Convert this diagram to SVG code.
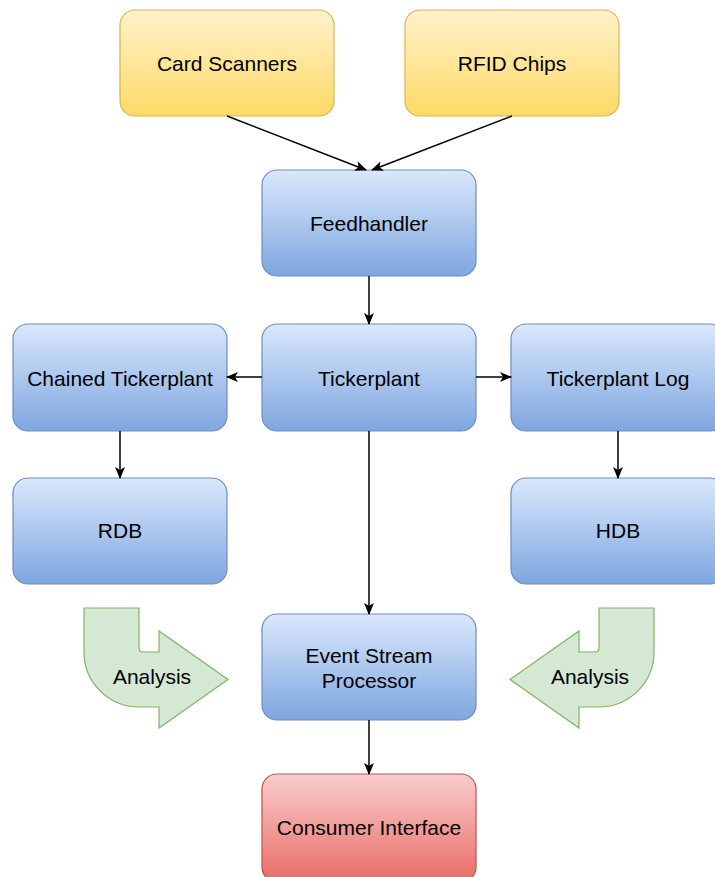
<svg xmlns="http://www.w3.org/2000/svg" width="715" height="877" viewBox="0 0 715 877">
<defs>
<linearGradient id="gy" x1="0" y1="0" x2="0" y2="1"><stop offset="0" stop-color="#fff2cc"/><stop offset="1" stop-color="#ffd966"/></linearGradient>
<linearGradient id="gb" x1="0" y1="0" x2="0" y2="1"><stop offset="0" stop-color="#dae8fc"/><stop offset="1" stop-color="#7ea6e0"/></linearGradient>
<linearGradient id="gr" x1="0" y1="0" x2="0" y2="1"><stop offset="0" stop-color="#f8cecc"/><stop offset="1" stop-color="#ea6b66"/></linearGradient>
<marker id="arr" viewBox="0 0 12 10" refX="11" refY="5" markerWidth="12" markerHeight="10" markerUnits="userSpaceOnUse" orient="auto">
<path d="M0,0 L12,5 L0,10 L3,5 Z" fill="#000"/>
</marker>
</defs>
<style>
.y{fill:url(#gy);stroke:#d6b656;stroke-width:1.2}
.b{fill:url(#gb);stroke:#6c8ebf;stroke-width:1.2}
.r{fill:url(#gr);stroke:#b85450;stroke-width:1.2}
.g{fill:#d5e8d4;stroke:#82b366;stroke-width:1.2}
text{font-family:"Liberation Sans",Arial,Helvetica,sans-serif;font-size:21px;fill:#000;text-anchor:middle;dominant-baseline:central}
.e{stroke:#000;stroke-width:1.5;fill:none;marker-end:url(#arr)}
</style>
<rect width="715" height="877" fill="#fff"/>
<g id="card-scanners"><rect class="y" x="120" y="10" width="214" height="106" rx="15"/><text x="227" y="63">Card Scanners</text></g>
<g id="rfid-chips"><rect class="y" x="405" y="10" width="214" height="106" rx="15"/><text x="512" y="63">RFID Chips</text></g>
<g id="feedhandler"><rect class="b" x="262" y="170" width="214" height="106" rx="15"/><text x="369" y="223">Feedhandler</text></g>
<g id="tickerplant"><rect class="b" x="262" y="324" width="214" height="107" rx="15"/><text x="369" y="378">Tickerplant</text></g>
<g id="chained-tickerplant"><rect class="b" x="13" y="324" width="214" height="107" rx="15"/><text x="120" y="378">Chained Tickerplant</text></g>
<g id="tickerplant-log"><rect class="b" x="511" y="324" width="214" height="107" rx="15"/><text x="618" y="378">Tickerplant Log</text></g>
<g id="rdb"><rect class="b" x="13" y="478" width="214" height="106" rx="15"/><text x="120" y="530">RDB</text></g>
<g id="hdb"><rect class="b" x="511" y="478" width="214" height="106" rx="15"/><text x="618" y="530">HDB</text></g>
<g id="event-stream-processor"><rect class="b" x="262" y="614" width="214" height="106" rx="15"/><text x="369" y="655">Event Stream</text><text x="369" y="680">Processor</text></g>
<g id="consumer-interface"><rect class="r" x="262" y="774" width="214" height="108" rx="15"/><text x="369" y="827">Consumer Interface</text></g>
<g id="analysis-left"><path class="g" d="M84,608 L139,608 L139,648 Q139,652 143,652 L159,652 L159,631 L228,679.5 L159,728 L159,707 L139,707 A55,55 0 0 1 84,652 Z"/><text x="152" y="676">Analysis</text></g>
<g id="analysis-right"><path class="g" d="M654,608 L599,608 L599,648 Q599,652 595,652 L579,652 L579,631 L510,679.5 L579,728 L579,707 L599,707 A55,55 0 0 0 654,652 Z"/><text x="590" y="676">Analysis</text></g>
<g id="connectors">
<line class="e" x1="227" y1="116" x2="366" y2="170"/>
<line class="e" x1="512" y1="116" x2="372" y2="170"/>
<line class="e" x1="369" y1="276" x2="369" y2="324"/>
<line class="e" x1="262" y1="377" x2="227" y2="377"/>
<line class="e" x1="476" y1="377" x2="511" y2="377"/>
<line class="e" x1="120" y1="431" x2="120" y2="478"/>
<line class="e" x1="618" y1="431" x2="618" y2="478"/>
<line class="e" x1="369" y1="431" x2="369" y2="614"/>
<line class="e" x1="369" y1="720" x2="369" y2="774"/>
</g>
</svg>
